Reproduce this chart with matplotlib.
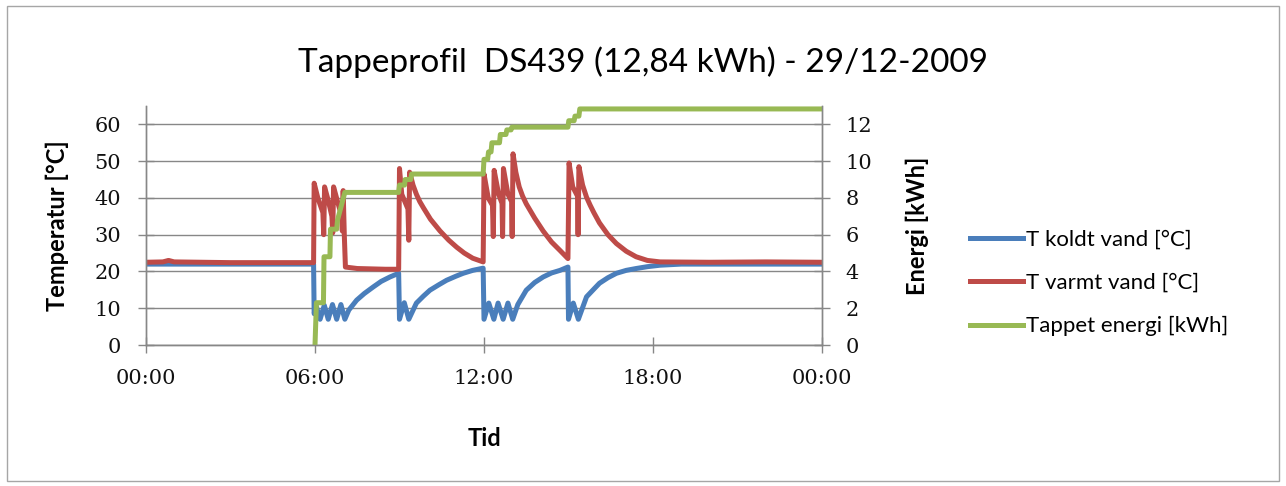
import numpy as np
import matplotlib
matplotlib.use('Agg')
import matplotlib.pyplot as plt
from matplotlib.patches import Rectangle

# ------------------------------------------------------------------
# Data (time in hours after midnight)
# ------------------------------------------------------------------
tick_hours = [0, 6, 12, 18, 24]
tick_labels = ['00:00', '06:00', '12:00', '18:00', '00:00']

# T koldt vand [degC]
cold_t = [0.0, 5.95, 5.97, 6.05, 6.18, 6.33, 6.47, 6.62, 6.77, 6.92, 7.06,
          7.2, 7.48, 7.75, 8.07, 8.35, 8.66, 8.97,
          9.00, 9.17, 9.33, 9.6, 9.85, 10.08, 10.4, 10.67, 11.0, 11.26,
          11.6, 11.97,
          12.00, 12.17, 12.35, 12.5, 12.68, 12.85, 13.02, 13.2, 13.5, 13.8,
          14.1, 14.4, 14.7, 14.98,
          15.00, 15.17, 15.35, 15.64, 15.9, 16.1, 16.4, 16.7, 17.05, 17.4,
          17.8, 18.25, 19.0, 21.0, 24.0]
cold_T = [22.0, 22.0, 8.5, 10.4, 7.0, 10.8, 7.0, 11.0, 7.0, 11.0, 7.0,
          9.5, 12.2, 14.0, 15.8, 17.3, 18.5, 19.5,
          7.0, 11.5, 7.0, 11.4, 13.3, 14.9, 16.4, 17.6, 18.7, 19.5,
          20.3, 20.9,
          7.0, 11.4, 7.0, 11.4, 7.0, 11.4, 7.0, 11.0, 14.9, 17.0,
          18.5, 19.6, 20.3, 21.2,
          7.0, 11.4, 7.0, 13.1, 15.2, 16.8, 18.3, 19.5, 20.3, 20.8,
          21.3, 21.7, 22.0, 22.0, 22.0]

# T varmt vand [degC]
hot_t = [0.0, 0.6, 0.8, 1.0, 3.0, 5.0, 5.95,
         5.97, 6.10, 6.28, 6.31, 6.34, 6.48, 6.60, 6.63, 6.66, 6.80, 6.95,
         6.97, 7.00, 7.04, 7.08, 7.5, 8.5, 8.97,
         9.00, 9.08, 9.30, 9.33, 9.36, 9.48, 9.6, 9.72, 9.85, 10.1, 10.44,
         10.75, 11.03, 11.3, 11.6, 11.97,
         12.00, 12.15, 12.30, 12.33, 12.36, 12.52, 12.64, 12.66, 12.69,
         12.85, 12.98, 13.00, 13.03, 13.13, 13.25, 13.37, 13.5, 13.8, 14.1,
         14.4, 14.7, 14.98,
         15.02, 15.15, 15.32, 15.34, 15.37, 15.5, 15.64, 15.77, 15.9, 16.1,
         16.4, 16.7, 17.05, 17.4, 17.8, 18.25, 20.0, 22.0, 24.0]
hot_T = [22.5, 22.6, 23.0, 22.6, 22.4, 22.4, 22.4,
         44.0, 40.0, 36.0, 30.0, 43.0, 39.0, 35.0, 30.5, 43.0, 39.0, 35.0,
         31.0, 42.0, 30.0, 21.2, 20.8, 20.6, 20.6,
         48.0, 41.0, 37.0, 28.5, 47.0, 43.5, 41.0, 39.0, 37.3, 34.2, 31.0,
         28.5, 26.6, 25.0, 23.6, 22.6,
         46.5, 40.0, 38.0, 29.5, 47.5, 41.0, 38.5, 29.5, 48.0,
         41.0, 39.0, 29.5, 52.0, 47.0, 43.0, 40.5, 38.4, 34.5, 31.0,
         28.0, 25.7, 23.5,
         49.5, 43.0, 40.5, 30.0, 48.5, 43.5, 40.2, 38.0, 36.0, 33.2,
         30.0, 27.6, 25.5, 24.0, 23.0, 22.6, 22.5, 22.6, 22.5]

# Tappet energi [kWh]
energy_t = [6.00, 6.05, 6.30, 6.32, 6.53, 6.55, 6.77, 6.80, 7.06,
            8.97, 9.00, 9.18, 9.20, 9.40, 9.43,
            11.97, 12.00, 12.13, 12.16, 12.25, 12.28, 12.55, 12.58, 12.78,
            12.81, 12.96, 12.99,
            14.98, 15.01, 15.20, 15.23, 15.37, 15.40, 24.0]
energy_E = [0.0, 2.3, 2.3, 4.8, 4.8, 6.3, 6.3, 6.8, 8.3,
            8.3, 8.7, 8.7, 9.0, 9.0, 9.3,
            9.3, 10.1, 10.1, 10.5, 10.5, 11.0, 11.0, 11.45, 11.45,
            11.7, 11.7, 11.85,
            11.85, 12.2, 12.2, 12.45, 12.45, 12.84, 12.84]

series_names = ['T koldt vand [°C]', 'T varmt vand [°C]', 'Tappet energi [kWh]']

# ------------------------------------------------------------------
W, H = 1286, 486
fig = plt.figure(figsize=(W / 100, H / 100), dpi=100)
fig.patch.set_facecolor('white')

sans = ['Lato', 'DejaVu Sans']
serif = ['DejaVu Serif']
grey = '#878787'

# plot area in pixels: x 146..822, y 106..345
ax = fig.add_axes([146 / W, 1 - 345 / H, (822 - 146) / W, (345 - 106) / H])
ax2 = ax.twinx()

lw = 3.6
l1, = ax.plot(cold_t, cold_T, color='#4A7EBB', lw=lw, solid_joinstyle='round')
l2, = ax.plot(hot_t, hot_T, color='#BE4B48', lw=lw, solid_joinstyle='round')
l3, = ax2.plot(energy_t, energy_E, color='#98B954', lw=lw,
               solid_joinstyle='round')

ax.set_xlim(0, 24)
ax.set_ylim(0, 65)
ax2.set_ylim(0, 13)
ax.set_yticks(np.arange(0, 61, 10))
ax2.set_yticks(np.arange(0, 13, 2))
ax.set_xticks(tick_hours)
ax.set_xticklabels(tick_labels)

ax.yaxis.grid(True, color=grey, lw=1.0)
ax.set_axisbelow(True)

for a in (ax, ax2):
    a.spines['top'].set_visible(False)
    for s in ('left', 'right', 'bottom'):
        a.spines[s].set_color(grey)
        a.spines[s].set_linewidth(1.0)
    a.tick_params(direction='inout', length=12, width=1.0, color=grey,
                  labelsize=15, labelcolor='#111111')
    for lab in a.get_yticklabels() + a.get_xticklabels():
        lab.set_family(serif)
ax.tick_params(axis='y', pad=12)
ax.tick_params(axis='x', pad=11)
ax2.tick_params(axis='y', pad=11)

ax.set_ylabel('Temperatur [°C]', fontsize=17, fontweight='bold',
              family=sans, labelpad=18)
ax2.set_ylabel('Energi [kWh]', fontsize=17, fontweight='bold',
               family=sans, labelpad=24)
ax.set_xlabel('Tid', fontsize=17, fontweight='bold', family=sans,
              labelpad=28)

fig.text(0.5, 1 - 62 / H, 'Tappeprofil  DS439 (12,84 kWh) - 29/12-2009',
         ha='center', va='center', fontsize=24, family=sans)

fig.legend([l1, l2, l3], series_names, loc='center left',
           bbox_to_anchor=(970 / W, 1 - 283 / H), frameon=False,
           borderpad=0, borderaxespad=0, handlelength=2.4,
           handletextpad=0.1, labelspacing=1.05,
           prop={'family': sans, 'size': 16})

fig.patches.append(Rectangle((7 / W, 5 / H), 1272 / W, 475 / H,
                             transform=fig.transFigure, fill=False,
                             edgecolor='#A6A6A6', lw=1.0))

fig.savefig('out.png', dpi=100)
